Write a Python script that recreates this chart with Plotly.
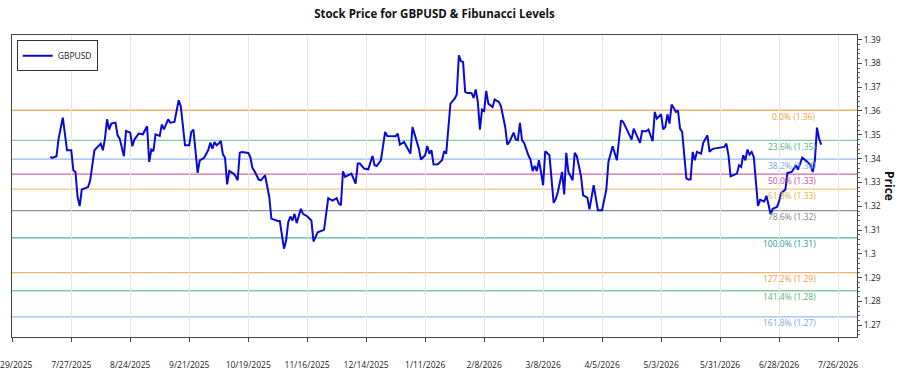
import plotly.graph_objects as go

title_text = "Stock Price for GBPUSD & Fibunacci Levels"
series_name = "GBPUSD"
y_title = "Price"

dates = [
    "2025-07-17","2025-07-18","2025-07-20","2025-07-21","2025-07-23","2025-07-25","2025-07-27","2025-07-28","2025-07-29","2025-07-30","2025-07-31",
    "2025-08-01","2025-08-03","2025-08-04","2025-08-05","2025-08-07","2025-08-10","2025-08-11","2025-08-12","2025-08-13","2025-08-14","2025-08-15",
    "2025-08-17","2025-08-18","2025-08-19","2025-08-21","2025-08-22","2025-08-24","2025-08-25","2025-08-26","2025-08-28","2025-08-30",
    "2025-09-01","2025-09-02","2025-09-03","2025-09-04","2025-09-05","2025-09-07","2025-09-08","2025-09-09","2025-09-11","2025-09-12","2025-09-14",
    "2025-09-15","2025-09-16","2025-09-17","2025-09-19","2025-09-21","2025-09-22","2025-09-23","2025-09-25","2025-09-26","2025-09-28","2025-09-30",
    "2025-10-01","2025-10-02","2025-10-03","2025-10-04","2025-10-05","2025-10-06","2025-10-07","2025-10-08","2025-10-09","2025-10-10","2025-10-12",
    "2025-10-13","2025-10-14","2025-10-15","2025-10-16","2025-10-19","2025-10-20","2025-10-21","2025-10-22","2025-10-24","2025-10-25","2025-10-27",
    "2025-10-29","2025-10-30","2025-10-31",
    "2025-11-02","2025-11-03","2025-11-04","2025-11-05","2025-11-06","2025-11-07","2025-11-08","2025-11-09","2025-11-10","2025-11-11","2025-11-13",
    "2025-11-14","2025-11-16","2025-11-18","2025-11-19","2025-11-21","2025-11-24","2025-11-26","2025-11-28","2025-11-30",
    "2025-12-01","2025-12-02","2025-12-03","2025-12-04","2025-12-07","2025-12-09","2025-12-10","2025-12-11","2025-12-13","2025-12-15","2025-12-16",
    "2025-12-17","2025-12-18","2025-12-19","2025-12-21","2025-12-23","2025-12-24","2025-12-26","2025-12-28","2025-12-29","2025-12-30",
    "2026-01-01","2026-01-04","2026-01-05","2026-01-07","2026-01-08","2026-01-09","2026-01-11","2026-01-12","2026-01-13","2026-01-14","2026-01-15",
    "2026-01-17","2026-01-19","2026-01-20","2026-01-21","2026-01-23","2026-01-25","2026-01-26","2026-01-27","2026-01-28","2026-01-29","2026-01-30",
    "2026-01-31",
    "2026-02-02","2026-02-03","2026-02-04","2026-02-05","2026-02-06","2026-02-07","2026-02-08","2026-02-09","2026-02-10","2026-02-12","2026-02-13",
    "2026-02-15","2026-02-16","2026-02-18","2026-02-19","2026-02-20","2026-02-22","2026-02-23","2026-02-24","2026-02-25","2026-02-26","2026-02-27",
    "2026-03-01","2026-03-02","2026-03-03","2026-03-04","2026-03-05","2026-03-06","2026-03-07","2026-03-08","2026-03-09","2026-03-11","2026-03-13",
    "2026-03-14","2026-03-15","2026-03-17","2026-03-18","2026-03-19","2026-03-20","2026-03-22","2026-03-23","2026-03-24","2026-03-26","2026-03-27",
    "2026-03-29","2026-03-30",
    "2026-04-01","2026-04-03","2026-04-05","2026-04-07","2026-04-08","2026-04-10","2026-04-12","2026-04-14","2026-04-15","2026-04-17","2026-04-19",
    "2026-04-20","2026-04-21","2026-04-23","2026-04-24","2026-04-26","2026-04-27","2026-04-29","2026-04-30",
    "2026-05-01","2026-05-03","2026-05-04","2026-05-05","2026-05-06","2026-05-07","2026-05-08","2026-05-09","2026-05-10","2026-05-11","2026-05-12",
    "2026-05-13","2026-05-15","2026-05-16","2026-05-17","2026-05-18","2026-05-19","2026-05-20","2026-05-22","2026-05-23","2026-05-25","2026-05-26",
    "2026-05-27","2026-05-28","2026-05-31",
    "2026-06-02","2026-06-03","2026-06-04","2026-06-05","2026-06-07","2026-06-08","2026-06-09","2026-06-10","2026-06-11","2026-06-12","2026-06-13",
    "2026-06-14","2026-06-15","2026-06-16","2026-06-18","2026-06-19","2026-06-21","2026-06-22","2026-06-23","2026-06-24","2026-06-25","2026-06-27",
    "2026-06-28","2026-06-29",
    "2026-07-01","2026-07-02","2026-07-04","2026-07-06","2026-07-07","2026-07-08","2026-07-09","2026-07-11","2026-07-13","2026-07-14","2026-07-15",
    "2026-07-16","2026-07-17","2026-07-18",
]

prices = [
    1.3407,1.3403,1.3410,1.3484,1.3572,1.3435,1.3435,1.3351,1.3344,1.3239,1.3201,
    1.3270,1.3277,1.3281,1.3309,1.3435,1.3463,1.3435,1.3484,1.3565,1.3522,1.3547,
    1.3551,1.3498,1.3484,1.3410,1.3516,1.3509,1.3452,1.3480,1.3505,1.3502,
    1.3536,1.3386,1.3438,1.3431,1.3502,1.3495,1.3543,1.3523,1.3565,1.3551,1.3554,
    1.3596,1.3645,1.3620,1.3456,1.3456,1.3512,1.3522,1.3340,1.3393,1.3403,1.3435,
    1.3467,1.3442,1.3470,1.3456,1.3463,1.3474,1.3418,1.3404,1.3292,1.3348,1.3337,
    1.3326,1.3309,1.3425,1.3428,1.3424,1.3407,1.3361,1.3347,1.3312,1.3309,1.3330,
    1.3239,1.3148,1.3144,
    1.3138,1.3138,1.3071,1.3022,1.3056,1.3133,1.3157,1.3140,1.3168,1.3129,1.3189,
    1.3168,1.3158,1.3140,1.3052,1.3091,1.3101,1.3234,1.3224,1.3234,
    1.3211,1.3204,1.3347,1.3323,1.3337,1.3295,1.3379,1.3379,1.3358,1.3355,1.3383,
    1.3411,1.3372,1.3369,1.3393,1.3512,1.3495,1.3495,1.3494,1.3505,1.3459,
    1.3470,1.3421,1.3533,1.3477,1.3442,1.3396,1.3414,1.3453,1.3421,1.3435,1.3375,
    1.3376,1.3393,1.3431,1.3421,1.3631,1.3652,1.3669,1.3834,1.3809,1.3806,1.3680,
    1.3676,
    1.3676,1.3655,1.3690,1.3638,1.3522,1.3606,1.3600,1.3684,1.3631,1.3617,1.3648,
    1.3638,1.3620,1.3533,1.3459,1.3470,1.3509,1.3480,1.3477,1.3550,1.3477,1.3466,
    1.3414,1.3396,1.3348,1.3369,1.3348,1.3393,1.3344,1.3288,1.3431,1.3414,1.3214,
    1.3231,1.3260,1.3344,1.3250,1.3424,1.3344,1.3309,1.3424,1.3410,1.3326,1.3246,
    1.3236,1.3187,
    1.3288,1.3183,1.3183,1.3270,1.3386,1.3452,1.3393,1.3561,1.3554,1.3515,1.3480,
    1.3526,1.3505,1.3466,1.3516,1.3515,1.3522,1.3473,1.3596,
    1.3568,1.3586,1.3523,1.3533,1.3586,1.3547,1.3627,1.3613,1.3596,1.3603,1.3526,
    1.3512,1.3317,1.3312,1.3312,1.3428,1.3393,1.3428,1.3421,1.3466,1.3498,1.3428,
    1.3438,1.3442,1.3446,
    1.3449,1.3463,1.3414,1.3326,1.3334,1.3337,1.3372,1.3365,1.3414,1.3393,1.3438,
    1.3417,1.3428,1.3407,1.3201,1.3227,1.3220,1.3244,1.3206,1.3166,1.3189,1.3197,
    1.3220,1.3255,
    1.3270,1.3340,1.3344,1.3372,1.3354,1.3382,1.3404,1.3390,1.3372,1.3344,1.3393,
    1.3530,1.3484,1.3459,
]
assert len(dates) == len(prices), (len(dates), len(prices))

fib_high = 1.3603
fib_low = 1.3067
fib_ratios = [0.0, 0.236, 0.382, 0.5, 0.618, 0.786, 1.0, 1.272, 1.414, 1.618]
fib_line_colors = ["#F5B06A", "#86C9A2", "#98BAF0", "#D167AE", "#EFC77A",
                   "#8D93A5", "#4FAEA6", "#F5B06A", "#86C9A2", "#98BAF0"]
fib_text_colors = ["#F0A040", "#5DB37E", "#82A8E8", "#C8509E", "#E3B04A",
                   "#858585", "#2A9D8F", "#F0A040", "#5DB37E", "#82A8E8"]

tick_start = "2025-06-29"
x_start = "2025-06-28 21:00"
x_end = "2026-08-04"

FONT = "Open Sans"

fig = go.Figure()
fig.add_trace(go.Scatter(
    x=dates, y=prices, mode="lines", name=series_name,
    line=dict(color="#0A0AD6", width=2),
))

shapes = []
annotations = []
for r, lc, tc in zip(fib_ratios, fib_line_colors, fib_text_colors):
    lvl = fib_high - (fib_high - fib_low) * r
    shapes.append(dict(type="line", xref="paper", x0=0, x1=1, yref="y", y0=lvl, y1=lvl,
                       line=dict(color=lc, width=1.3), layer="between"))
    annotations.append(dict(xref="paper", x=0.954, yref="y", y=lvl, xanchor="right",
                            yanchor="middle", yshift=-6, showarrow=False,
                            text=f"{r*100:.1f}% ({lvl:.2f})",
                            font=dict(family=FONT, size=8.5, color=tc)))

annotations.append(dict(xref="paper", x=1.039, yref="paper", y=0.5, textangle=90,
                        xanchor="center", yanchor="middle",
                        showarrow=False, text=f"<b>{y_title}</b>",
                        font=dict(family=FONT, size=12, color="#111")))

fig.update_layout(
    width=900, height=375,
    margin=dict(l=12, r=43, t=35, b=38, autoexpand=False),
    paper_bgcolor="white", plot_bgcolor="white",
    title=dict(text=f"<b>{title_text}</b>", x=0.5, xref="paper", y=1 - 14 / 375,
               yref="container", yanchor="middle",
               font=dict(family=FONT, size=11.5, color="#111")),
    showlegend=True,
    legend=dict(x=0.0056, y=0.983, xanchor="left", yanchor="top",
                bgcolor="white", bordercolor="#333", borderwidth=1,
                font=dict(family=FONT, size=8.5, color="#222"),
                itemwidth=30, tracegroupgap=0),
    shapes=shapes,
    annotations=annotations,
    font=dict(family=FONT, size=8.5, color="#222"),
)

fig.update_xaxes(
    type="date", range=[x_start, x_end], automargin=False,
    tick0=tick_start, dtick=28 * 86400000, tickformat="%-m/%-d/%Y",
    showgrid=True, gridcolor="#E6E6E6", gridwidth=1,
    showline=True, linecolor="#444", linewidth=1.2, mirror=True,
    ticks="outside", ticklen=4, tickcolor="#444",
    ticklabelstandoff=16, ticklabeloverflow="allow",
    tickfont=dict(family=FONT, size=8.5, color="#222"),
    zeroline=False,
)
fig.update_yaxes(
    side="right", range=[1.2651, 1.3919], dtick=0.01, tick0=1.27, automargin=False,
    showgrid=False, zeroline=False,
    showline=True, linecolor="#444", linewidth=1.2, mirror=True,
    ticks="outside", ticklen=4, tickcolor="#444",
    minor=dict(ticks="outside", ticklen=2, dtick=0.002, tickcolor="#666", showgrid=False),
    tickfont=dict(family=FONT, size=8.5, color="#222"),
)

fig.write_html("out.html")
